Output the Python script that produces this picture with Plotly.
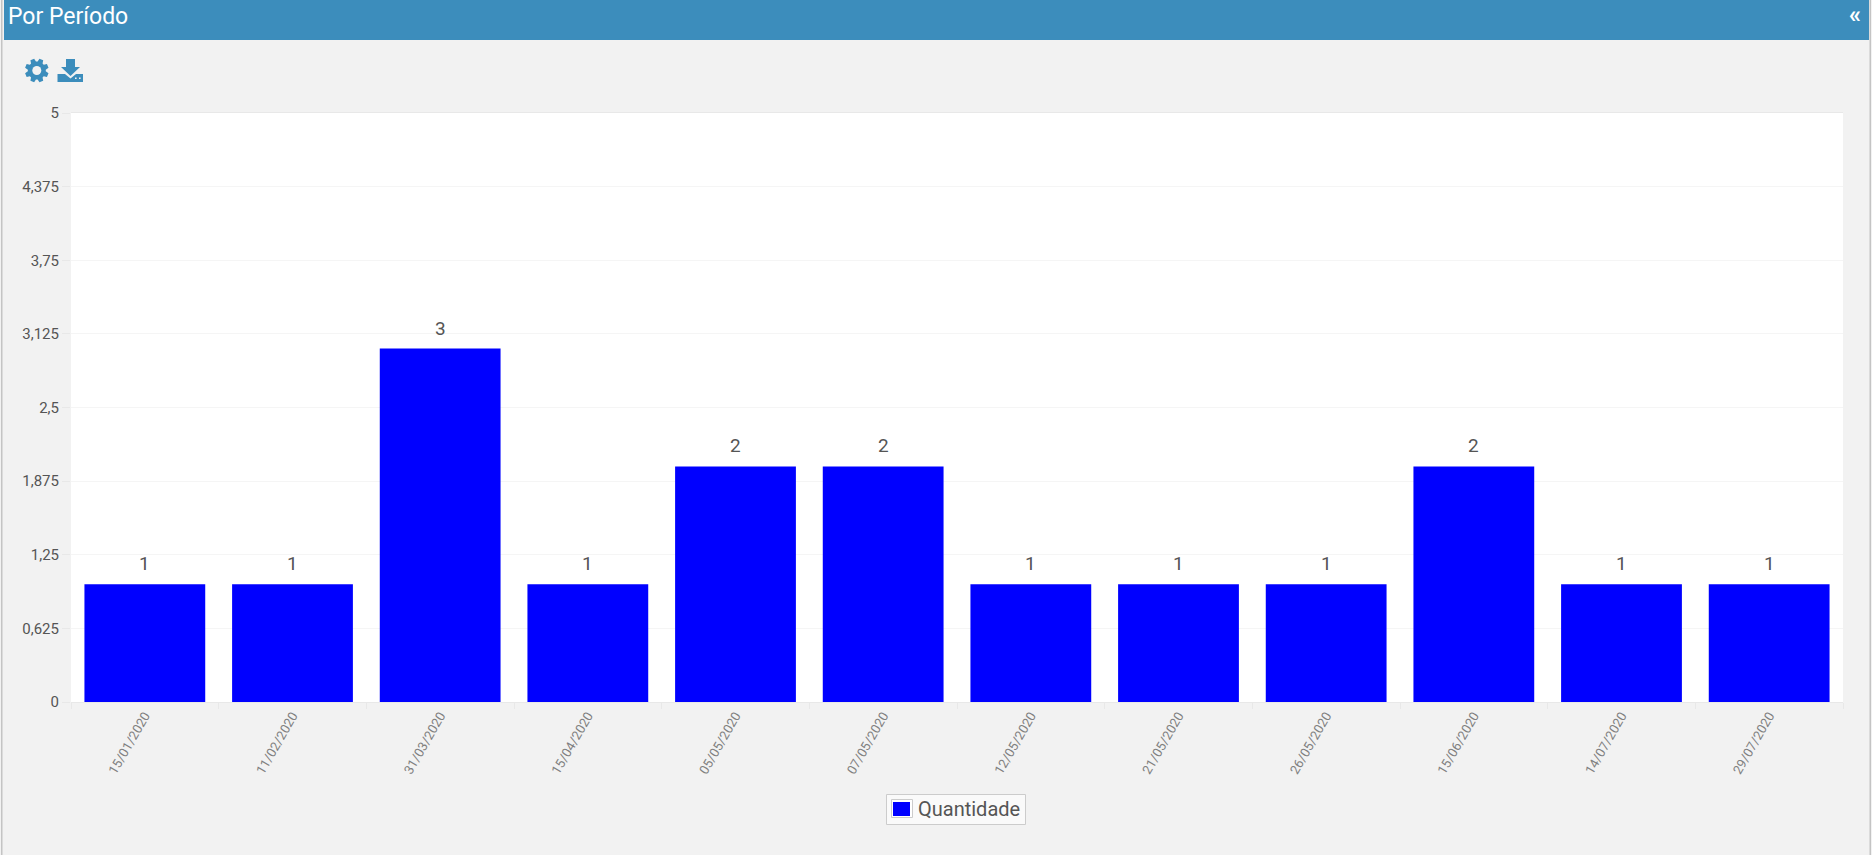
import numpy as np
import plotly.graph_objects as go

W, H = 1872, 855

# Chart data
datas = ["15/01/2020", "11/02/2020", "31/03/2020", "15/04/2020", "05/05/2020", "07/05/2020",
         "12/05/2020", "21/05/2020", "26/05/2020", "15/06/2020", "14/07/2020", "29/07/2020"]
quantidade = [1, 1, 3, 1, 2, 2, 1, 1, 1, 2, 1, 1]
y_ticks = [0, 0.625, 1.25, 1.875, 2.5, 3.125, 3.75, 4.375, 5]
y_labels = ["0", "0,625", "1,25", "1,875", "2,5", "3,125", "3,75", "4,375", "5"]
serie = "Quantidade"

BLUE = "#3c8dbc"
PANEL = "#f2f2f2"
BAR = "#0000ff"


def px(x):
    return x / W


def py(y):
    return 1 - y / H


def rect(x0, y0, x1, y1, fill, line=None):
    return dict(type="rect", xref="paper", yref="paper", x0=px(x0), x1=px(x1), y0=py(y0), y1=py(y1),
                fillcolor=fill, line=dict(width=1 if line else 0, color=line or fill), layer="below")


def polygon(points, fill):
    d = "M" + " L".join(f"{px(x):.5f},{py(y):.5f}" for x, y in points) + " Z"
    return dict(type="path", xref="paper", yref="paper", path=d, fillcolor=fill,
                line=dict(width=0), layer="below")


def gear_outline(cx, cy, r_out, r_in, teeth=8):
    pts = []
    step = 2 * np.pi / teeth
    for i in range(teeth):
        a = i * step + step / 2
        for da, r in [(-0.30, r_in), (-0.17, r_out), (0.17, r_out), (0.30, r_in)]:
            pts.append((cx + r * np.cos(a + da), cy + r * np.sin(a + da)))
    return pts


shapes = [
    # panel edges and header band
    rect(1, 0, 2.5, H, "#c4c4c4"),
    rect(1869.5, 0, 1871, H, "#c4c4c4"),
    rect(4, 0, 1869, 40, BLUE),
    # settings icon
    polygon(gear_outline(36.8, 70.5, 12, 9), BLUE),
    dict(type="circle", xref="paper", yref="paper", x0=px(32.3), x1=px(41.3), y0=py(75), y1=py(66),
         fillcolor=PANEL, line=dict(width=0), layer="below"),
    # download icon
    polygon([(66, 59), (75, 59), (75, 67), (80, 67), (70.5, 76), (61, 67), (66, 67)], BLUE),
    polygon([(57.5, 74), (65, 74), (70.5, 78.5), (76, 74), (83, 74), (83, 82), (57.5, 82)], BLUE),
    rect(75, 77.5, 76.6, 79, PANEL),
    rect(79, 77.5, 80.6, 79, PANEL),
    # legend box and swatch
    rect(886.5, 794.5, 1025.5, 824.5, "#fafafa", "#cccccc"),
    rect(891.5, 799.5, 912.5, 817.5, "#ffffff", "#cccccc"),
    rect(893, 802, 910, 816, BAR),
]

annotations = [
    dict(text="Por Período", x=px(5.5), y=py(16.5), xref="paper", yref="paper", xanchor="left", yanchor="middle",
         showarrow=False, font=dict(family="Roboto", size=23, color="#ffffff")),
    dict(text="<b>«</b>", x=px(1855), y=py(15), xref="paper", yref="paper", xanchor="center", yanchor="middle",
         showarrow=False, font=dict(family="Roboto", size=24, color="#ffffff")),
    dict(text=serie, x=px(916), y=py(809), xref="paper", yref="paper", xanchor="left", yanchor="middle",
         showarrow=False, font=dict(family="Roboto", size=20, color="#555555")),
]
# Value labels sit a fixed distance above each bar
for d, q in zip(datas, quantidade):
    annotations.append(dict(text=str(q), x=d, y=q, xref="x", yref="y", xanchor="center", yanchor="bottom",
                            yshift=7, showarrow=False, font=dict(family="Roboto", size=19, color="#555555")))

fig = go.Figure(
    go.Bar(
        x=datas,
        y=quantidade,
        name=serie,
        width=0.818,
        marker=dict(color=BAR, line=dict(width=0)),
        hoverinfo="x+y",
    )
)

fig.update_layout(
    width=W,
    height=H,
    autosize=False,
    margin=dict(l=0, r=0, t=0, b=0, autoexpand=False),
    paper_bgcolor=PANEL,
    plot_bgcolor="#ffffff",
    font=dict(family="Roboto", color="#555555"),
    showlegend=False,
    shapes=shapes,
    annotations=annotations,
    bargap=0.18,
)

fig.update_xaxes(
    automargin=False,
    domain=[px(71), px(1843)],
    type="category",
    categoryorder="array",
    categoryarray=datas,
    tickangle=-60,
    tickfont=dict(family="Roboto", size=13, color="#808080"),
    ticks="outside",
    tickson="boundaries",
    ticklen=6,
    tickcolor="#e8e8e8",
    showgrid=False,
    showline=True,
    linecolor="#e8e8e8",
    mirror=True,
)
fig.update_yaxes(
    automargin=False,
    domain=[py(702), py(113)],
    range=[0, 5],
    tickmode="array",
    tickvals=y_ticks,
    ticktext=y_labels,
    tickfont=dict(family="Roboto", size=15, color="#555555"),
    ticks="outside",
    ticklen=8,
    tickcolor="#e8e8e8",
    gridcolor="#f5f5f5",
    gridwidth=1,
    zeroline=False,
    showline=False,
)

fig.write_html("out.html")
